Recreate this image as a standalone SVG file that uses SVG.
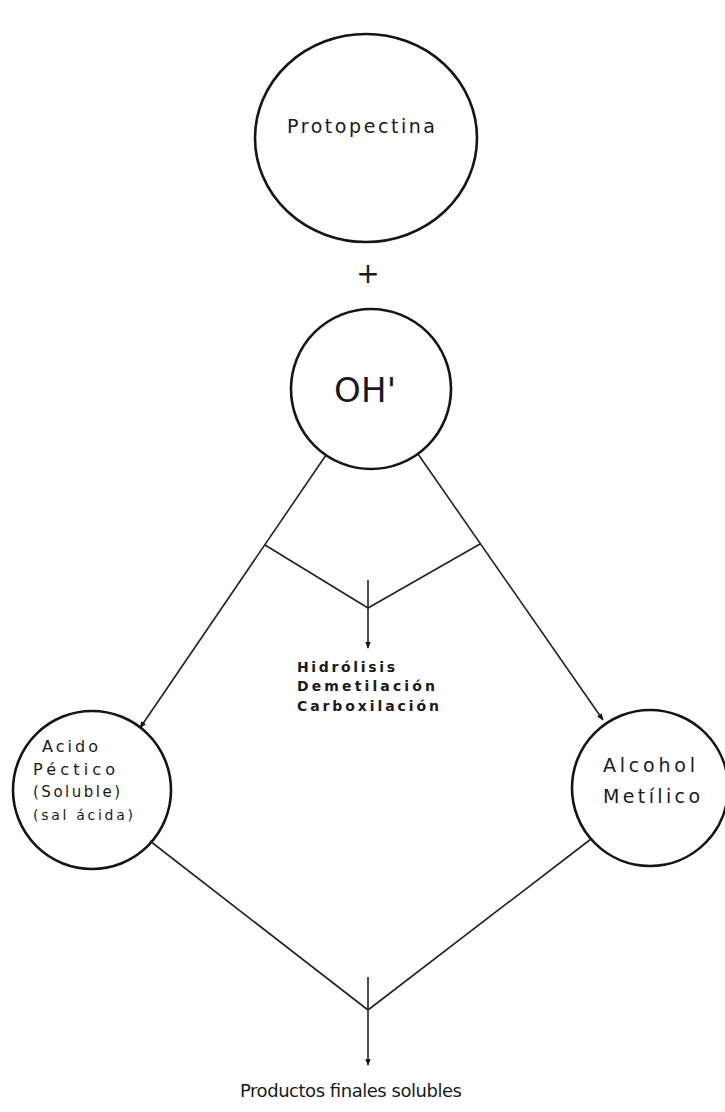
<svg xmlns="http://www.w3.org/2000/svg" width="725" height="1112" viewBox="0 0 725 1112">
<defs>
<style>
.node{fill:none;stroke:#151515;stroke-width:2.6}
.conn{fill:none;stroke:#222;stroke-width:1.6}
.t{font-family:"DejaVu Sans","Liberation Sans",sans-serif;fill:#1a1a1a}
</style>
<marker id="ah" viewBox="0 0 10 10" refX="9" refY="5" markerWidth="7" markerHeight="7" orient="auto" markerUnits="userSpaceOnUse">
<path d="M0,1 L10,5 L0,9 z" fill="#111"/>
</marker>
</defs>
<rect width="725" height="1112" fill="#fff"/>
<g id="protopectina">
<ellipse class="node" cx="366" cy="138" rx="111" ry="104"/>
<text class="t" x="287" y="133" font-size="19" textLength="148" lengthAdjust="spacing">Protopectina</text>
</g>
<g id="plus">
<text class="t" x="368" y="283" font-size="28" text-anchor="middle">+</text>
</g>
<g id="oh">
<circle class="node" cx="371" cy="389" r="80"/>
<text class="t" x="334" y="402" font-size="34" textLength="62" lengthAdjust="spacing">OH'</text>
</g>
<g id="acido">
<circle class="node" cx="92" cy="790" r="79"/>
<text class="t" x="42" y="752" font-size="16" textLength="56">Acido</text>
<text class="t" x="33" y="775" font-size="16" textLength="82">Péctico</text>
<text class="t" x="33" y="797" font-size="15" textLength="87">(Soluble)</text>
<text class="t" x="33" y="820" font-size="14" textLength="100">(sal ácida)</text>
</g>
<g id="alcohol">
<circle class="node" cx="650" cy="788" r="78"/>
<text class="t" x="603" y="772" font-size="19" textLength="92">Alcohol</text>
<text class="t" x="603" y="803" font-size="19" textLength="97">Metílico</text>
</g>
<g id="proceso">
<text class="t" x="297" y="672" font-size="14" textLength="98" font-weight="bold">Hidrólisis</text>
<text class="t" x="297" y="691" font-size="14" textLength="138" font-weight="bold">Demetilación</text>
<text class="t" x="297" y="711" font-size="14" textLength="142" font-weight="bold">Carboxilación</text>
</g>
<g id="productos">
<text class="t" x="240" y="1097" font-size="18" textLength="222">Productos finales solubles</text>
</g>
<g id="connectors">
<line class="conn" x1="326" y1="455" x2="140" y2="728" marker-end="url(#ah)"/>
<line class="conn" x1="418" y1="454" x2="603" y2="720" marker-end="url(#ah)"/>
<polyline class="conn" points="265,545 368,608 480,544"/>
<line class="conn" x1="368" y1="580" x2="368" y2="648" marker-end="url(#ah)"/>
<line class="conn" x1="150" y1="841" x2="368" y2="1010"/>
<line class="conn" x1="591" y1="839" x2="368" y2="1010"/>
<line class="conn" x1="368" y1="977" x2="368" y2="1065" marker-end="url(#ah)"/>
</g>
</svg>
